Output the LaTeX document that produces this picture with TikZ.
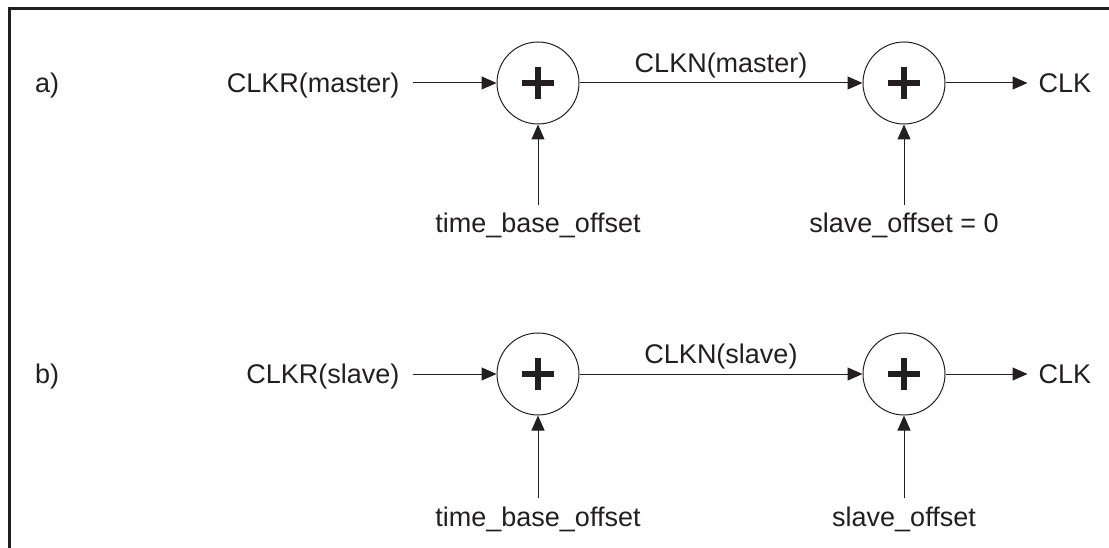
\documentclass[tikz,border=0pt]{standalone}
\usepackage{fontspec}
\setmainfont{Liberation Sans}
\usetikzlibrary{arrows.meta,positioning}
\definecolor{ink}{RGB}{35,31,32}

\begin{document}
\begin{tikzpicture}[x=1pt,y=-1pt,node distance=89pt and 97pt,>={Triangle[length=15pt,width=13pt]},
font=\fontsize{27}{32}\selectfont,
lbl/.style={inner sep=0pt,text height=19.3pt,text depth=0pt,text=ink},
adder/.style={circle,draw=ink,line width=1pt,minimum size=82pt,inner sep=0pt,
  path picture={\draw[ink,line width=5.5pt] (path picture bounding box.center) +(-16pt,0pt) -- +(16pt,0pt)
    (path picture bounding box.center) +(0pt,-16pt) -- +(0pt,16pt);}},
arr/.style={->,line width=1pt,ink}]
\useasboundingbox (0,0) rectangle (1109,548);
\draw[ink,line width=3pt] (9,548) -- (9,9) -- (1109,9);
% row a)
\node[adder] (baseA) at (538,83) {};
\node[adder] (offA) at (904,83) {};
\node[lbl,anchor=west] (tagA) at (35,83) {a)};
\node[lbl,left=97pt of baseA] (inA) {CLKR(master)};
\node[lbl,right=93pt of offA] (outA) {CLK};
\node[lbl,below=of baseA] (tbA) {time\_base\_offset};
\node[lbl,below=of offA] (soA) {slave\_offset = 0};
\draw[arr,shorten <=13pt] (inA) -- (baseA);
\draw[arr] (baseA) -- node[lbl,above=10pt] (clknA) {CLKN(master)} (offA);
\draw[arr,shorten >=11pt] (offA) -- (outA);
\draw[arr,shorten <=8pt] (tbA) -- (baseA);
\draw[arr,shorten <=8pt] (soA) -- (offA);
% row b)
\node[adder] (baseB) at (538,374) {};
\node[adder] (offB) at (904,374) {};
\node[lbl,anchor=west] (tagB) at (35,374) {b)};
\node[lbl,left=97pt of baseB] (inB) {CLKR(slave)};
\node[lbl,right=93pt of offB] (outB) {CLK};
\node[lbl,below=91pt of baseB] (tbB) {time\_base\_offset};
\node[lbl,below=91pt of offB] (soB) {slave\_offset};
\draw[arr,shorten <=13pt] (inB) -- (baseB);
\draw[arr] (baseB) -- node[lbl,above=10pt] (clknB) {CLKN(slave)} (offB);
\draw[arr,shorten >=11pt] (offB) -- (outB);
\draw[arr,shorten <=9pt] (tbB) -- (baseB);
\draw[arr,shorten <=9pt] (soB) -- (offB);
\end{tikzpicture}
\end{document}
